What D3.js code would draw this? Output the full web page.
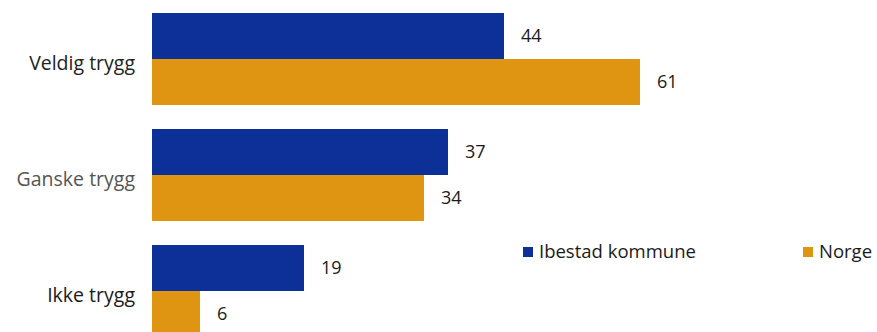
<!DOCTYPE html>
<html>
<head>
<meta charset="utf-8">
<script src="https://cdn.jsdelivr.net/npm/d3@7"></script>
<style>
  html, body { margin: 0; padding: 0; background: #fff; }
  svg { display: block; }
  text { font-family: "Open Sans", Roboto, "Noto Sans", sans-serif; }
</style>
</head>
<body>
<svg id="chart" width="877" height="332"></svg>
<script>
const categories = ["Veldig trygg", "Ganske trygg", "Ikke trygg"];
const seriesNames = ["Ibestad kommune", "Norge"];
const ibestad = [44, 37, 19];
const norge = [61, 34, 6];

const colors = ["#0c2f98", "#df9512"];
const labelColors = { "Veldig trygg": "#222", "Ganske trygg": "#555", "Ikke trygg": "#1a1a1a" };

const svg = d3.select("#chart");

const x = d3.scaleLinear().domain([0, 61]).range([152, 640]);
const p = 24 / 116;
const y0 = d3.scaleBand().domain(categories).range([13, 13 + 116 * (3 - p)]).paddingInner(p).paddingOuter(0);
const y1 = d3.scaleBand().domain(seriesNames).range([0, y0.bandwidth()]);

const data = categories.map((c, i) => ({ cat: c, vals: [ibestad[i], norge[i]] }));

const g = svg.append("g");
const groups = g.selectAll("g.grp").data(data).join("g")
  .attr("class", "grp")
  .attr("transform", d => `translate(0,${y0(d.cat)})`);

groups.selectAll("rect").data(d => d.vals.map((v, j) => ({ v, s: seriesNames[j], j })))
  .join("rect")
  .attr("x", x(0))
  .attr("y", d => y1(d.s))
  .attr("width", d => x(d.v) - x(0))
  .attr("height", y1.bandwidth())
  .attr("fill", d => colors[d.j]);

groups.selectAll("text.val").data(d => d.vals.map((v, j) => ({ v, s: seriesNames[j], j })))
  .join("text")
  .attr("class", "val")
  .attr("x", d => x(d.v) + 17)
  .attr("y", d => y1(d.s) + y1.bandwidth() / 2)
  .attr("dy", "0.35em")
  .attr("font-size", 18)
  .attr("fill", "#1a1a1a")
  .text(d => d.v);

// category labels
g.selectAll("text.cat").data(categories).join("text")
  .attr("class", "cat")
  .attr("x", 135)
  .attr("y", d => y0(d) + y0.bandwidth() / 2 + 4)
  .attr("dy", "0.35em")
  .attr("text-anchor", "end")
  .attr("font-size", 19.5)
  .attr("fill", d => labelColors[d])
  .text(d => d);

// legend
const legendX = [523, 803];
const leg = svg.selectAll("g.leg").data(seriesNames).join("g")
  .attr("class", "leg")
  .attr("transform", (d, i) => `translate(${legendX[i]},252)`);
leg.append("rect").attr("x", 0).attr("y", -5).attr("width", 10).attr("height", 10)
  .attr("fill", (d, i) => colors[i]);
leg.append("text").attr("x", 16).attr("y", 0).attr("dy", "0.35em")
  .attr("font-size", 18.5).attr("fill", "#1a1a1a").text(d => d);
</script>
</body>
</html>
